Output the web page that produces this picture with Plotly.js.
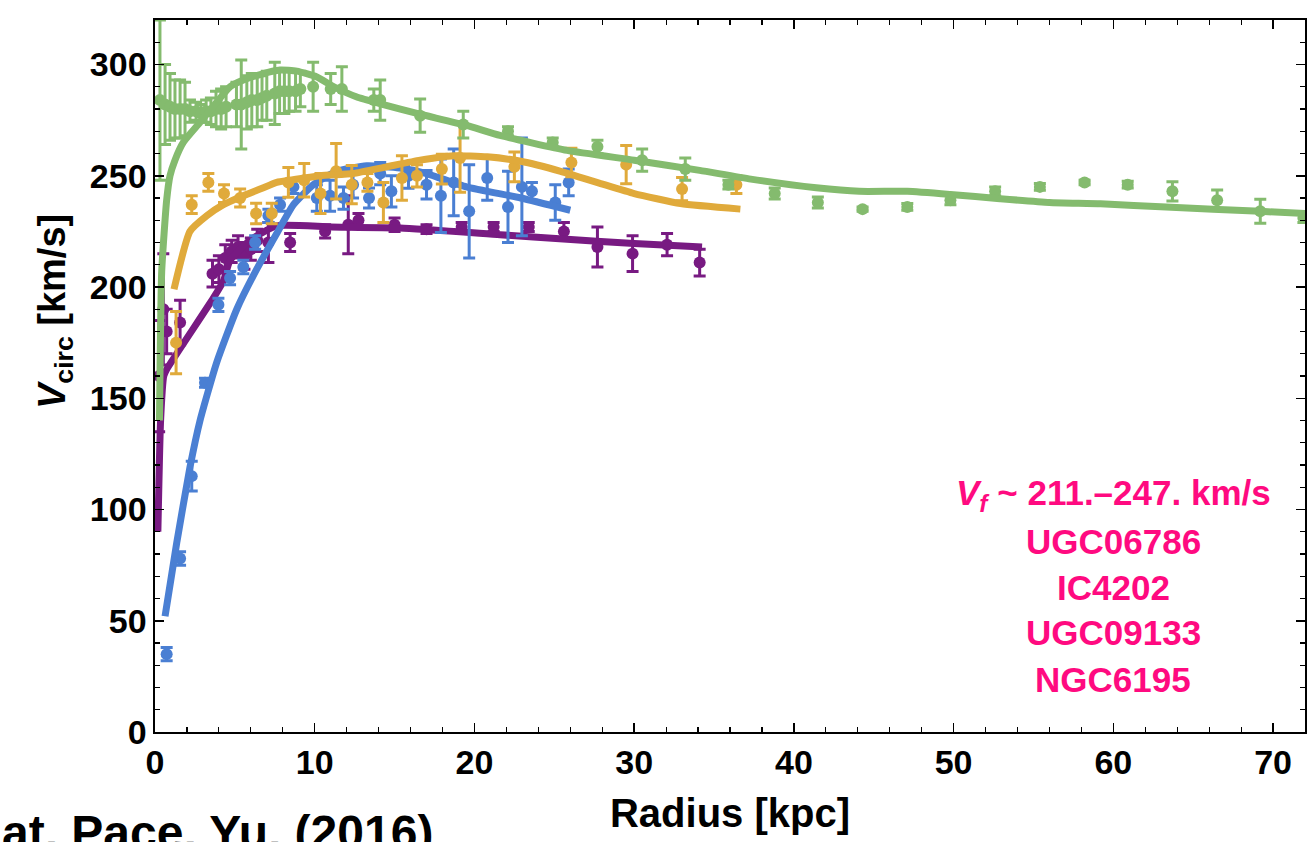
<!DOCTYPE html>
<html>
<head>
<meta charset="utf-8">
<script src="https://cdn.plot.ly/plotly-3.0.1.min.js"></script>
<style>html,body{margin:0;padding:0;background:#fff;}#chart{width:1307px;height:842px;}</style>
</head>
<body>
<div id="chart"></div>
<script>
// ---- Galaxy names (legend / annotation) ----
const galaxyNames = ["UGC06786", "IC4202", "UGC09133", "NGC6195"];
const vfRangeText = "<i>V<sub>f</sub></i> ~ 211.–247. km/s";

// ---- Green galaxy: observed points ----
const greenR = [0.31,0.63,0.94,1.25,1.57,1.88,2.19,2.57,2.88,3.2,3.5,3.82,4.14,4.45,5.1,5.4,5.75,6.06,6.4,6.7,7.0,7.5,7.8,8.1,8.4,8.8,9.1,9.9,11.0,11.7,13.7,14.1,16.6,19.3,22.1,24.9,27.7,30.5,33.2,35.9,38.8,41.5,44.3,47.1,49.8,52.6,55.4,58.2,60.9,63.7,66.5,69.2,71.9];
const greenV = [284,282,281,280,280,280,279,279,278,279,279,280,280,281,282,282,283,284,284,285,286,287,288,288,288,288,289,290,289,289,284,284,277,273,270,265,263,257,253,246,242,238,235,236,239,243,245,247,246,243,239,234,231];
const greenErr = [36,18,15,13,13,12,5,4,4,5,6,8,9,9,10,20,12,12,12,10,11,14,10,10,9,9,8,11,7,10,5,9,7.5,6,2,2,3,5,5,2,2.5,2.5,1,1.5,2,2,1.5,1,1.5,4.3,4.6,5.4,2];
// Green model curve
const greenFitR = [0.28,0.42,0.73,0.94,1.25,1.77,2.82,3.86,4.7,5.53,6.58,7.83,8.88,10.1,11.2,12.6,14.3,16.4,19.5,21.6,25.8,30,34.1,37.3,41.4,44.1,47.1,49.8,52.9,56,59.2,63.3,69.2,72.1];
const greenFitV = [140,207,239,250,257,265,274,283,290,293,295.5,297.5,297,294.5,290,285.5,282,278,272.6,268.1,261.4,257,252.4,248.5,244.6,243,243,241.6,239.7,238,237.4,235.9,234,233];

// ---- Orange galaxy ----
const orangeR = [1.32,2.3,3.34,4.32,5.33,6.33,7.31,8.35,9.34,10.36,11.34,12.32,13.3,14.3,15.46,16.4,17.96,19.1,22.5,26.07,29.5,33.0,36.4];
const orangeV = [175,237,247,242,240,233,233,247,248,242,252,246,247,238,249,250,253,258,254,256,255,244,246];
const orangeErr = [14,4,4,4,4,4.6,4.6,6.7,7.5,9,12.5,8.6,4,9,10,5,6.7,15.4,6.7,6.4,8.6,5.2,4];
const orangeFitR = [1.19,2.19,3.24,4.28,5.53,6.58,7.62,8.46,10.34,12.4,14.5,16.6,18.7,20.8,22.9,25.4,27.9,30,32.9,36.65];
const orangeFitV = [199,225,232,237,241,244,247,248,250,251,254,257,259,258.5,256.5,252,246.5,242,237.5,235];

// ---- Blue galaxy ----
const blueR = [0.73,1.57,2.3,3.13,3.97,4.7,5.53,6.27,7.1,7.83,8.67,10.13,10.96,11.8,12.4,13.4,14.1,14.8,15.87,17.0,17.9,18.7,19.67,20.8,22.1,22.97,23.6,25.06,25.9];
const blueV = [35,78,115,157,192,204,209,220,232,237,245,240,241,240,246,240,251,243,250,246,241,247,234,249,236,245,243,238,247];
const blueErr = [3,3,6.7,2,3,3,3,3,3,3,3,6,7,5,6,4.5,5,7,5.6,6.4,16.5,15,21,10,16,22,4,8,6];
const blueFitR = [0.63,1.36,2.19,2.82,3.86,5.12,6.37,7.62,8.67,9.92,11.38,13.26,15.35,17,19.5,22.9,26];
const blueFitV = [52,85,119,140,166,190,208,224,237,246,252,254.5,253.5,251,245,240,234.5];

// ---- Purple galaxy ----
const purpleR = [0.26,0.52,0.73,1.57,3.6,4.0,4.4,4.8,5.2,5.6,6.0,6.4,7.1,8.46,10.65,12.1,12.74,15.0,17.0,19.2,21.2,23.4,25.6,27.7,29.9,32.06,34.1];
const purpleV = [160,190,180,184,206,208,213,216,218,214,217,221,220,220,225,228,230,228,226,227,227,227,225,218,215,219,211];
const purpleErr = [25,25,10,10,6,6,6,5,5,6,5,5,9,4,3,13,3,3,2,2,2,2,4,9,8,5,6];
const purpleFitR = [0.18,0.35,0.55,0.73,3.65,4.3,4.7,5.95,7.6,11,15.35,21.6,25.8,30,34.25];
const purpleFitV = [90,140,160,163,195,203,212,221,227.5,227,226.5,223.5,221.5,219.5,218];

// ---- Axis ticks ----
const xTickVals = [0,10,20,30,40,50,60,70];
const yTickVals = [0,50,100,150,200,250,300];

const colors = {green:'#84bb6e', orange:'#e0aa3b', blue:'#4a7fd3', purple:'#781a82', magenta:'#ff0a80'};

function lineTrace(x, y, c, name){
  return {x:x, y:y, mode:'lines', type:'scatter', name:name, showlegend:false,
          line:{color:c, width:7, shape:'spline', smoothing:0.5}, hoverinfo:'skip'};
}
function pointTrace(x, y, e, c, name){
  return {x:x, y:y, mode:'markers', type:'scatter', name:name, showlegend:false,
          marker:{color:c, size:12, symbol:'circle'},
          error_y:{type:'data', array:e, visible:true, color:c, thickness:3, width:6}};
}

const traces = [
  pointTrace(purpleR, purpleV, purpleErr, colors.purple, galaxyNames[3]),
  lineTrace(purpleFitR, purpleFitV, colors.purple, galaxyNames[3]+' fit'),
  pointTrace(blueR, blueV, blueErr, colors.blue, galaxyNames[0]),
  lineTrace(blueFitR, blueFitV, colors.blue, galaxyNames[0]+' fit'),
  pointTrace(orangeR, orangeV, orangeErr, colors.orange, galaxyNames[1]),
  lineTrace(orangeFitR, orangeFitV, colors.orange, galaxyNames[1]+' fit'),
  pointTrace(greenR, greenV, greenErr, colors.green, galaxyNames[2]),
  lineTrace(greenFitR, greenFitV, colors.green, galaxyNames[2]+' fit')
];

const FAM = 'Liberation Sans, Arial, sans-serif';
const tickFont = {family:FAM, size:34, color:'#000', weight:'bold'};
const magentaFont = {family:FAM, size:35, color:colors.magenta, weight:'bold'};

const infoLines = [vfRangeText].concat(galaxyNames);
const infoY = [106.4, 85.8, 65.1, 44.5, 23.8];
const annotations = infoLines.map((t,i)=>({
  text:t, x:60.0, y:infoY[i], xref:'x', yref:'y', showarrow:false,
  xanchor:'center', yanchor:'middle', font:magentaFont
}));
annotations.push({
  text:'<i>V</i><sub>circ</sub> [km/s]', textangle:-90, xref:'paper', yref:'paper',
  x:-100/1150, y:(732-312)/712, xanchor:'center', yanchor:'middle', showarrow:false,
  font:{family:FAM, size:38, color:'#000', weight:'bold'}
});
annotations.push({
  text:'at, Pace, Yu, (2016)', xref:'paper', yref:'paper',
  x:-155/1150, y:(732-804)/712, xanchor:'left', yanchor:'top', showarrow:false,
  font:{family:FAM, size:48, color:'#000', weight:'bold'}
});

const layout = {
  width:1307, height:842,
  margin:{l:155, r:2, t:20, b:110},
  paper_bgcolor:'#fff', plot_bgcolor:'#fff',
  showlegend:false,
  xaxis:{range:[0,72], tickvals:xTickVals, ticktext:xTickVals.map(String),
         ticks:'inside', ticklen:9, tickwidth:1.5, tickcolor:'#000',
         minor:{dtick:2, tick0:0, ticks:'inside', ticklen:5, tickwidth:1.2, tickcolor:'#000'},
         showline:true, linecolor:'#000', linewidth:1.6, mirror:'allticks',
         showgrid:false, zeroline:false, tickfont:tickFont,
         title:{text:'Radius [kpc]', font:{family:FAM, size:40, color:'#000', weight:'bold'}, standoff:18}},
  yaxis:{range:[0,320], tickvals:yTickVals, ticktext:yTickVals.map(String),
         ticks:'inside', ticklen:9, tickwidth:1.5, tickcolor:'#000',
         minor:{dtick:10, tick0:0, ticks:'inside', ticklen:5, tickwidth:1.2, tickcolor:'#000'},
         showline:true, linecolor:'#000', linewidth:1.6, mirror:'allticks',
         showgrid:false, zeroline:false, tickfont:tickFont},
  annotations:annotations
};

Plotly.newPlot('chart', traces, layout, {displayModeBar:false, staticPlot:true});
</script>
</body>
</html>
